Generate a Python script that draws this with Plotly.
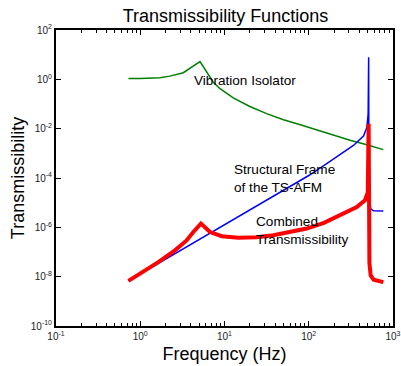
import plotly.graph_objects as go

# ---------------- data ----------------
iso_freq = [0.724, 1.0, 1.7, 2.25, 3.24, 5.12, 7.36, 8.85, 12.7, 20.0, 31.6,
            50.1, 79.4, 123.0, 195.0, 309.0, 490.0, 767.0]
iso_T = [1.07, 1.07, 1.17, 1.35, 1.86, 5.25, 0.76, 0.417, 0.178, 0.0794,
         0.0407, 0.0229, 0.0145, 0.00891, 0.00537, 0.00339, 0.00224, 0.00141]

frame_freq = [0.724, 3.16, 10.0, 31.6, 100.0, 158.5, 234.4, 338.8, 446.7,
              489.8, 507.0, 514.0, 517.6, 524.8, 543.3, 588.8, 767.4]
frame_T = [6.76e-9, 1.29e-7, 1.29e-6, 1.29e-5, 1.26e-4, 3.55e-4, 8.91e-4,
           2.09e-3, 5.01e-3, 1.12e-2, 3.98e-2, 7.94, 1.0e-4, 1.58e-5,
           5.62e-6, 4.68e-6, 4.57e-6]

comb_freq = [0.724, 1.637, 2.582, 3.548, 4.266, 5.248, 6.730, 9.268, 14.59,
             23.99, 38.02, 60.26, 94.41, 151.4, 234.4, 371.5, 464.5, 501.2,
             514.0, 517.6, 524.8, 543.3, 588.8, 767.4]
comb_T = [6.76e-9, 3.89e-8, 1.17e-7, 2.95e-7, 6.46e-7, 1.41e-6, 6.46e-7,
          4.37e-7, 3.80e-7, 3.98e-7, 4.79e-7, 6.31e-7, 8.91e-7, 1.51e-6,
          3.09e-6, 6.61e-6, 1.26e-5, 2.51e-5, 1.58e-2, 3.16e-7, 3.55e-8,
          1.12e-8, 7.59e-9, 6.03e-9]

x_tickvals = [0.1, 1, 10, 100, 1000]
x_ticktext = ["10<sup>-1</sup>", "10<sup>0</sup>", "10<sup>1</sup>",
              "10<sup>2</sup>", "10<sup>3</sup>"]
y_tickvals = [1e-10, 1e-8, 1e-6, 1e-4, 1e-2, 1, 100]
y_ticktext = ["10<sup>-10</sup>", "10<sup>-8</sup>", "10<sup>-6</sup>",
              "10<sup>-4</sup>", "10<sup>-2</sup>", "10<sup>0</sup>",
              "10<sup>2</sup>"]
x_minor = [m * 10 ** e for e in range(-1, 3) for m in range(2, 10)]

FONT = "Arial, Liberation Sans, sans-serif"

fig = go.Figure()
fig.add_trace(go.Scatter(x=iso_freq, y=iso_T, mode="lines",
                         line=dict(color="#008000", width=1.5),
                         name="Vibration Isolator"))
fig.add_trace(go.Scatter(x=frame_freq, y=frame_T, mode="lines",
                         line=dict(color="#0000ff", width=1.5),
                         name="Structural Frame"))
fig.add_trace(go.Scatter(x=comb_freq, y=comb_T, mode="lines",
                         line=dict(color="#ff0000", width=4),
                         name="Combined"))

axis_common = dict(
    showline=True, linecolor="black", linewidth=2, mirror="ticks",
    ticks="inside", ticklen=5, tickwidth=1, tickcolor="black",
    showgrid=False, zeroline=False, automargin=False,
    tickfont=dict(family=FONT, size=10, color="#222"),
)

fig.update_xaxes(type="log", range=[-1, 3], tickmode="array",
                 tickvals=x_tickvals, ticktext=x_ticktext,
                 minor=dict(tickmode="array", tickvals=x_minor, ticks="inside",
                            ticklen=3, tickwidth=1, tickcolor="black",
                            showgrid=False),
                 title=dict(text="Frequency (Hz)",
                            font=dict(family=FONT, size=18, color="black"),
                            standoff=6),
                 **axis_common)
fig.update_yaxes(type="log", range=[-10, 2], tickmode="array",
                 tickvals=y_tickvals, ticktext=y_ticktext,
                 title=dict(text="Transmissibility",
                            font=dict(family=FONT, size=18, color="black"),
                            standoff=1),
                 **axis_common)

ann_font = dict(family=FONT, size=13.6, color="black")
fig.add_annotation(text="Vibration Isolator", xref="paper", yref="paper",
                   x=0.4035, y=0.828, xanchor="left", yanchor="middle",
                   showarrow=False, font=ann_font)
fig.add_annotation(text="Structural Frame<br>of the TS-AFM", xref="paper",
                   yref="paper", x=0.522, y=0.497, xanchor="left",
                   yanchor="middle", align="left", showarrow=False,
                   font=ann_font)
fig.add_annotation(text="Combined<br>Transmissibility", xref="paper",
                   yref="paper", x=0.588, y=0.321, xanchor="left",
                   yanchor="middle", align="left", showarrow=False,
                   font=ann_font)

fig.update_layout(
    width=401, height=366,
    margin=dict(l=56, r=8, t=30, b=40, autoexpand=False),
    paper_bgcolor="white", plot_bgcolor="white",
    showlegend=False,
    title=dict(text="Transmissibility Functions", x=0.5623, xanchor="center",
               y=0.9563, yanchor="middle", yref="container",
               font=dict(family=FONT, size=18, color="black")),
)

fig.write_html("out.html",
               config={"displayModeBar": False},
               post_script="document.body.style.margin='0';"
                           "document.body.style.padding='0';")
